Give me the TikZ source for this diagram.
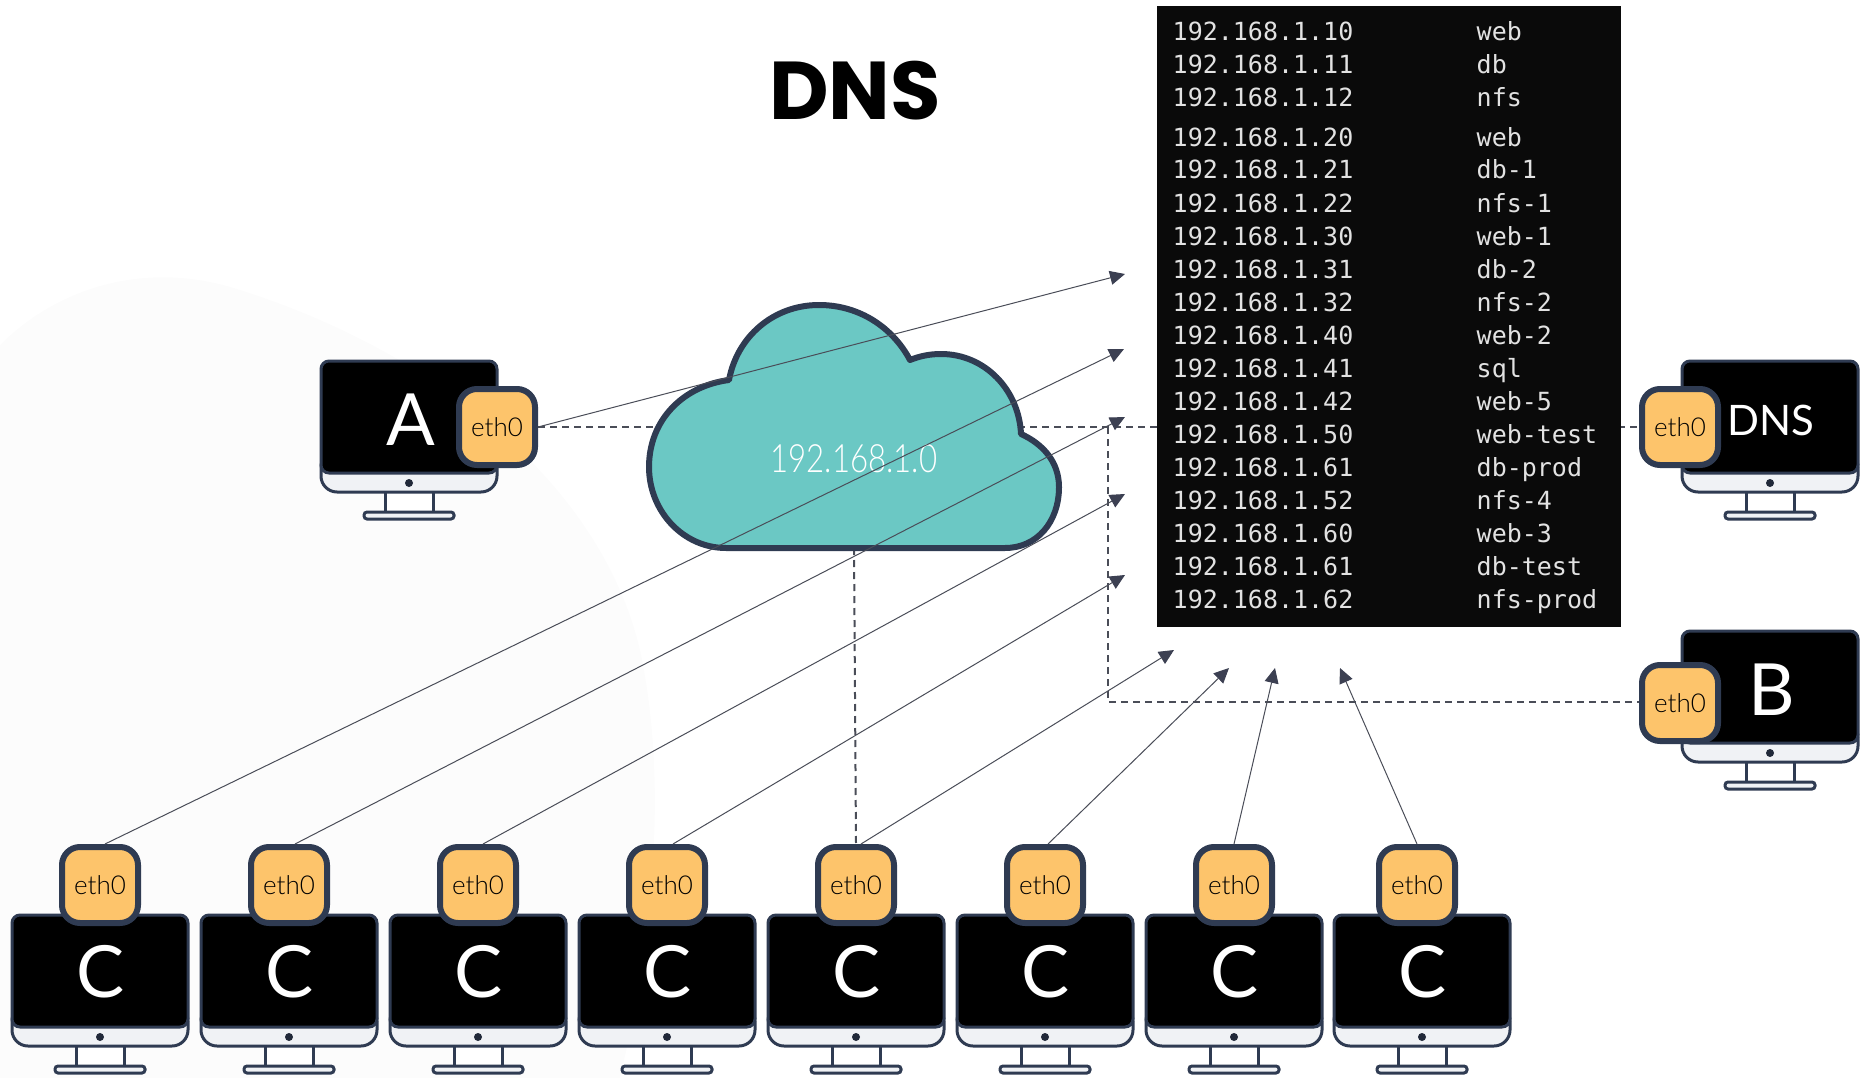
\documentclass[tikz,border=0pt]{standalone}
\usepackage{fontspec}
\setmainfont{Lato}
\newfontfamily\lightfont{Lato Light}
\newfontfamily\titlefont{Poppins}
\setmonofont{DejaVu Sans Mono}
\usetikzlibrary{positioning, arrows.meta}

\definecolor{edgeblue}{HTML}{2F3B52}
\definecolor{wiregray}{HTML}{4A4D58}
\definecolor{tipgray}{HTML}{3C4052}
\definecolor{ethorange}{HTML}{FDC46B}
\definecolor{cloudteal}{HTML}{6BC8C4}
\definecolor{chingray}{HTML}{F0F2F5}
\definecolor{rowgray}{HTML}{E2E2E2}
\definecolor{blobgray}{HTML}{FCFCFC}

\pgfdeclarelayer{wires}
\pgfsetlayers{wires,main}

\tikzset{
    ethbox/.style={draw=edgeblue, line width=6pt, fill=ethorange, rounded corners=18pt,
        minimum size=76pt, inner sep=0pt, font=\lightfont\fontsize{26}{26}\selectfont, text=black},
    hostlabel/.style={text=white, inner sep=0pt, font=\fontsize{72}{72}\selectfont},
    dnslabel/.style={text=white, inner sep=0pt, font=\fontsize{42}{42}\selectfont},
    rowtext/.style={text=rowgray, inner sep=0pt, anchor=base west, font=\ttfamily\fontsize{25}{25}\selectfont},
    dashline/.style={draw=wiregray, line width=2pt, dash pattern=on 7pt off 5pt},
    linkarrow/.style={draw=wiregray, line width=1pt, -{Triangle[length=15pt,width=14pt,color=tipgray]}}
}

% one desktop, the origin is the top middle of its screen
\newcommand{\desktop}[2]{
    \begin{scope}[shift={(#1,#2)}, draw=edgeblue, line width=3pt]
        \draw[fill=white] (-24,128) rectangle (24,151);
        \draw[fill=chingray, rounded corners=3pt] (-45,158) -- (-45,151) -- (45,151) -- (45,158) -- cycle;
        \draw[fill=chingray, rounded corners=16pt] (-88,90) -- (-88,131) -- (88,131) -- (88,90) -- cycle;
        \draw[fill=black, rounded corners=8pt] (-88,112) -- (-88,0) -- (88,0) -- (88,112) -- cycle;
        \fill[edgeblue!70!black] (0,122) circle (4pt);
    \end{scope}
}

\begin{document}
\begin{tikzpicture}[x=1pt, y=-1pt]
    \useasboundingbox (0,0) rectangle (1868,1078);

    \begin{pgfonlayer}{wires}
        \fill[blobgray] (0,345) .. controls (60,285) and (150,260) .. (240,290)
            .. controls (430,350) and (600,480) .. (640,650)
            .. controls (670,790) and (650,950) .. (620,1078) -- (0,1078) -- cycle;
    \end{pgfonlayer}

    \node[font=\titlefont\bfseries\fontsize{82}{82}\selectfont, inner sep=0pt] (title) at (855,91) {DNS};

    % the network
    \draw[draw=edgeblue, line width=6pt, fill=cloudteal, line join=round]
        (726,548) -- (1005,548)
        .. controls (1037,548) and (1059,522) .. (1059,487)
        .. controls (1059,462) and (1043,444) .. (1021,434)
        .. controls (1019,390) and (985,354) .. (941,354)
        .. controls (930,354) and (920,356) .. (910,360)
        .. controls (893,328) and (860,305) .. (819,305)
        .. controls (773,305) and (737,337) .. (729,380)
        .. controls (683,386) and (649,420) .. (649,467)
        .. controls (649,511) and (683,548) .. (726,548) -- cycle;
    \node[text=white, inner sep=0pt, font=\lightfont\fontsize{39}{39}\selectfont, xscale=.8, transform shape] (subnet) at (854,459) {192.168.1.0};
    \coordinate (cloudbottom) at (854,548);

    % the hosts table
    \node[fill=black!96, minimum width=464pt, minimum height=621pt, inner sep=0pt, anchor=north west] (hosts) at (1157,6) {};
    \foreach \i/\y/\ip/\host in {
        1/41/10/web, 2/74/11/db, 3/107/12/nfs, 4/147/20/web, 5/179/21/db-1, 6/212/22/nfs-1,
        7/245/30/web-1, 8/278/31/db-2, 9/311/32/nfs-2, 10/344/40/web-2, 11/377/41/sql,
        12/410/42/web-5, 13/443/50/web-test, 14/476/61/db-prod, 15/509/52/nfs-4,
        16/542/60/web-3, 17/575/61/db-test, 18/608/62/nfs-prod} {
        \node[rowtext] (ip\i) at (1172.5,\y) {192.168.1.\ip};
        \node[rowtext] (name\i) at (1476.5,\y) {\host};
    }

    % desktops
    \desktop{409}{361}
    \node[hostlabel] (labelA) at (411,420) {A};
    \node[ethbox] (ethA) at (497,427) {eth0};

    \desktop{1770}{361}
    \node[dnslabel] (labelDNS) at (1771,420) {DNS};
    \node[ethbox] (ethDNS) at (1680,427) {eth0};

    \desktop{1770}{631}
    \node[hostlabel] (labelB) at (1772,690) {B};
    \node[ethbox] (ethB) at (1680,703) {eth0};

    \foreach \i/\cx/\ex in {1/100/100, 2/289/289, 3/478/478, 4/667/667, 5/856/856, 6/1045/1045, 7/1234/1234, 8/1422/1417} {
        \desktop{\cx}{915}
        \node[hostlabel] (labelC\i) at (\cx+1,972) {C};
        \node[ethbox] (ethC\i) at (\ex,885) {eth0};
    }

    % dashed wires go below the cloud and the table
    \coordinate (corner) at (1108,702);
    \coordinate (branch) at (1108,427);
    \begin{pgfonlayer}{wires}
        \draw[dashline] (ethA) -- (ethDNS);
        \draw[dashline] (cloudbottom) -- (ethC5.north);
        \draw[dashline] (branch) -- (corner) -- (ethB.west |- corner);
    \end{pgfonlayer}

    % everybody sends to the table
    \coordinate (tipA) at (1125,274);
    \draw[linkarrow] (ethA.east) -- (tipA);
    \foreach \i/\dx/\tx/\ty in {1/5/1124/349, 2/6/1125/417, 3/5/1125/494, 4/6/1125/575,
        5/5/1174/650, 6/3/1229/668, 7/0/1275/668, 8/0/1340/668} {
        \coordinate (tipC\i) at (\tx,\ty);
        \draw[linkarrow] ([xshift=\dx pt]ethC\i.north) -- (tipC\i);
    }
\end{tikzpicture}
\end{document}
